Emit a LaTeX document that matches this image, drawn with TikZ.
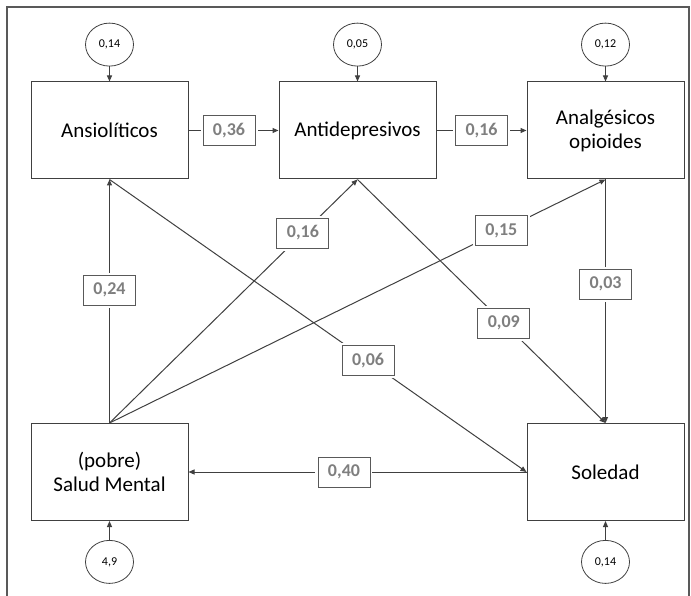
\documentclass[tikz,border=0pt]{standalone}
\usepackage{fontspec}
\setmainfont{Carlito}
\usetikzlibrary{positioning, arrows.meta, shapes.geometric}
\definecolor{lineGray}{HTML}{404040}
\definecolor{labelGray}{HTML}{7F7F7F}
\definecolor{frameGray}{HTML}{595959}

\begin{document}
\begin{tikzpicture}[x=1pt, y=-1pt,
        varbox/.style={rectangle, draw=lineGray, line width=1pt, minimum width=157pt, minimum height=97pt, align=center, font=\fontsize{21}{24}\selectfont, text=black},
        residual/.style={ellipse, draw=lineGray, line width=0.8pt, minimum width=48pt, minimum height=43pt, inner sep=0pt, font=\fontsize{12}{14}\selectfont},
        coef/.style={rectangle, draw=frameGray, fill=white, line width=0.9pt, minimum width=52pt, minimum height=30pt, inner sep=0pt, font=\bfseries\fontsize{18}{20}\selectfont, text=labelGray, preaction={draw=white, line width=5pt}},
        arrow/.style={-{Triangle[length=6pt, width=5pt]}, line width=1pt, lineGray}
      ]
      \useasboundingbox (0,0) rectangle (691,596);
      \draw[frameGray, line width=1.2pt] (7,610) -- (7,7) -- (689,7) -- (689,610);
      % variables
      \node[varbox] (ans) at (109.5,130.5) {Ansiolíticos};
      \node[varbox] (ant) at (357.5,130.5) {Antidepresivos};
      \node[varbox] (ana) at (605.5,130.5) {Analgésicos\\opioides};
      \node[varbox] (sal) at (109.5,472) {(pobre)\\Salud Mental};
      \node[varbox] (sol) at (605.5,472) {Soledad};
      % residuals
      \foreach \v/\e in {ans/{0,14}, ant/{0,05}, ana/{0,12}} {
         \node[residual, above=15pt of \v] (e\v) {\e};
         \draw[arrow] (e\v) -- (\v);
      }
      \foreach \v/\e in {sal/{4,9}, sol/{0,14}} {
         \node[residual, below=19pt of \v] (e\v) {\e};
         \draw[arrow] (e\v) -- (\v);
      }
      % paths
      \draw[arrow] (ans) -- node[coef, pos=0.45] {0,36} (ant);
      \draw[arrow] (ant) -- node[coef] {0,16} (ana);
      \draw[arrow] (sal.north) -- node[coef, pos=0.545] {0,24} (ans.south);
      \draw[arrow] (sal.north) -- node[coef, pos=0.78] {0,16} (ant.south);
      \draw[arrow] (sal.north) -- node[coef, pos=0.79] {0,15} (ana.south);
      \draw[arrow] (ans.south) -- node[coef, pos=0.62] {0,06} (sol.west);
      \draw[arrow] (ant.south) -- node[coef, pos=0.59] {0,09} (sol.north);
      \draw[arrow] (ana) -- node[coef, pos=0.43] {0,03} (sol);
      \draw[arrow] (sol) -- node[coef, pos=0.54] {0,40} (sal);
    \end{tikzpicture}
\end{document}
